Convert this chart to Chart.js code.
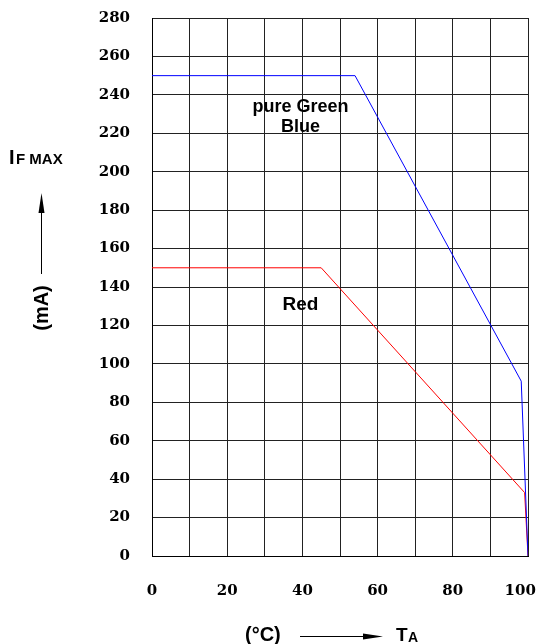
<!DOCTYPE html>
<html>
<head>
<meta charset="utf-8">
<script src="https://cdn.jsdelivr.net/npm/chart.js@4/dist/chart.umd.min.js"></script>
<style>
  html, body { margin: 0; padding: 0; background: #fff; }
  #wrap { width: 542px; height: 644px; position: relative; }
</style>
</head>
<body>
<div id="wrap"><canvas id="c" width="542" height="644"></canvas></div>
<script>
// Ambient temperature (°C) vs. maximum forward current (mA)
const blueTemps = [0, 54, 98.2, 100];
const blueCurrent = [250, 250, 91, 0];
const redTemps = [0, 45, 99.1, 100];
const redCurrent = [150, 150, 33, 0];
const xTicks = [0, 20, 40, 60, 80, 100];
const yTicks = [0, 20, 40, 60, 80, 100, 120, 140, 160, 180, 200, 220, 240, 260, 280];

const toPoints = (xs, ys) => xs.map((x, i) => ({ x: x, y: ys[i] }));

const serifTick = { family: "'DejaVu Serif', 'Liberation Serif', serif", size: 15, weight: 'bold' };
const sans = "'Liberation Sans', Arial, sans-serif";

// keep edge tick labels from shrinking the plot area
function noEdgePadding(scale) {
  scale.paddingLeft = 0;
  scale.paddingRight = 0;
  scale.paddingTop = 0;
  scale.paddingBottom = 0;
}

// Free text and arrows around the plot
const annotations = {
  id: 'annotations',
  afterDraw(chart) {
    const ctx = chart.ctx;
    const xs = chart.scales.x, ys = chart.scales.y;
    ctx.save();
    ctx.fillStyle = '#000';
    ctx.strokeStyle = '#000';
    ctx.textBaseline = 'middle';

    // series names inside the plot
    ctx.font = 'bold 18px ' + sans;
    ctx.textAlign = 'center';
    ctx.fillText('pure Green', xs.getPixelForValue(39.5), ys.getPixelForValue(233.5));
    ctx.fillText('Blue', xs.getPixelForValue(39.5), ys.getPixelForValue(223));
    ctx.font = 'bold 19px ' + sans;
    ctx.fillText('Red', xs.getPixelForValue(39.5), ys.getPixelForValue(130.5));

    // y axis title: I F MAX
    ctx.textAlign = 'left';
    ctx.font = 'bold 20px ' + sans;
    ctx.fillText('I', 9, 158);
    ctx.font = 'bold 15px ' + sans;
    ctx.fillText('F MAX', 16, 159.5);

    // upward arrow
    ctx.lineWidth = 1;
    ctx.beginPath();
    ctx.moveTo(41.5, 274);
    ctx.lineTo(41.5, 205);
    ctx.stroke();
    ctx.beginPath();
    ctx.moveTo(41.5, 193);
    ctx.lineTo(38.5, 213);
    ctx.lineTo(44.5, 213);
    ctx.closePath();
    ctx.fill();

    // (mA) rotated
    ctx.save();
    ctx.translate(42, 308);
    ctx.rotate(-Math.PI / 2);
    ctx.textAlign = 'center';
    ctx.font = 'bold 20px ' + sans;
    ctx.fillText('(mA)', 0, 0);
    ctx.restore();

    // x axis title: (°C) ----> TA
    ctx.textAlign = 'left';
    ctx.font = 'bold 20px ' + sans;
    ctx.fillText('(°C)', 245, 635);
    ctx.beginPath();
    ctx.moveTo(300, 636.5);
    ctx.lineTo(370, 636.5);
    ctx.stroke();
    ctx.beginPath();
    ctx.moveTo(383, 636.5);
    ctx.lineTo(363, 633.5);
    ctx.lineTo(363, 639.5);
    ctx.closePath();
    ctx.fill();
    ctx.font = 'bold 19px ' + sans;
    ctx.fillText('T', 396, 636);
    ctx.font = 'bold 14px ' + sans;
    ctx.fillText('A', 408, 638);
    ctx.restore();
  }
};

new Chart(document.getElementById('c'), {
  type: 'line',
  data: {
    datasets: [
      {
        label: 'pure Green / Blue',
        data: toPoints(blueTemps, blueCurrent),
        borderColor: '#0000ff',
        borderWidth: 1,
        pointRadius: 0,
        fill: false,
        tension: 0
      },
      {
        label: 'Red',
        data: toPoints(redTemps, redCurrent),
        borderColor: '#ff0000',
        borderWidth: 1,
        pointRadius: 0,
        fill: false,
        tension: 0
      }
    ]
  },
  options: {
    responsive: false,
    animation: false,
    devicePixelRatio: 1,
    layout: { padding: { left: 0, right: 14, top: 18, bottom: 0 } },
    plugins: { legend: { display: false }, tooltip: { enabled: false } },
    scales: {
      x: {
        type: 'linear',
        min: 0,
        max: 100,
        afterBuildTicks(scale) {
          const t = [];
          for (let v = 0; v <= 100; v += 10) t.push({ value: v });
          scale.ticks = t;
        },
        afterFit(scale) { scale.height = 88; noEdgePadding(scale); },
        ticks: {
          padding: 26,
          color: '#000',
          font: serifTick,
          maxRotation: 0,
          autoSkip: false,
          // the last label sits a little inside the right edge
          callback: (v) => (xTicks.includes(v) ? (v === 100 ? '100   ' : String(v)) : '')
        },
        grid: { color: '#222', lineWidth: 1, drawTicks: false },
        border: { color: '#000', width: 1 }
      },
      y: {
        type: 'linear',
        min: 0,
        max: 280,
        afterBuildTicks(scale) { scale.ticks = yTicks.map(v => ({ value: v })); },
        afterFit(scale) { scale.width = 152; noEdgePadding(scale); },
        ticks: {
          padding: 22,
          color: '#000',
          font: serifTick,
          autoSkip: false
        },
        grid: { color: '#222', lineWidth: 1, drawTicks: false },
        border: { color: '#000', width: 1 }
      }
    }
  },
  plugins: [annotations]
});
</script>
</body>
</html>
